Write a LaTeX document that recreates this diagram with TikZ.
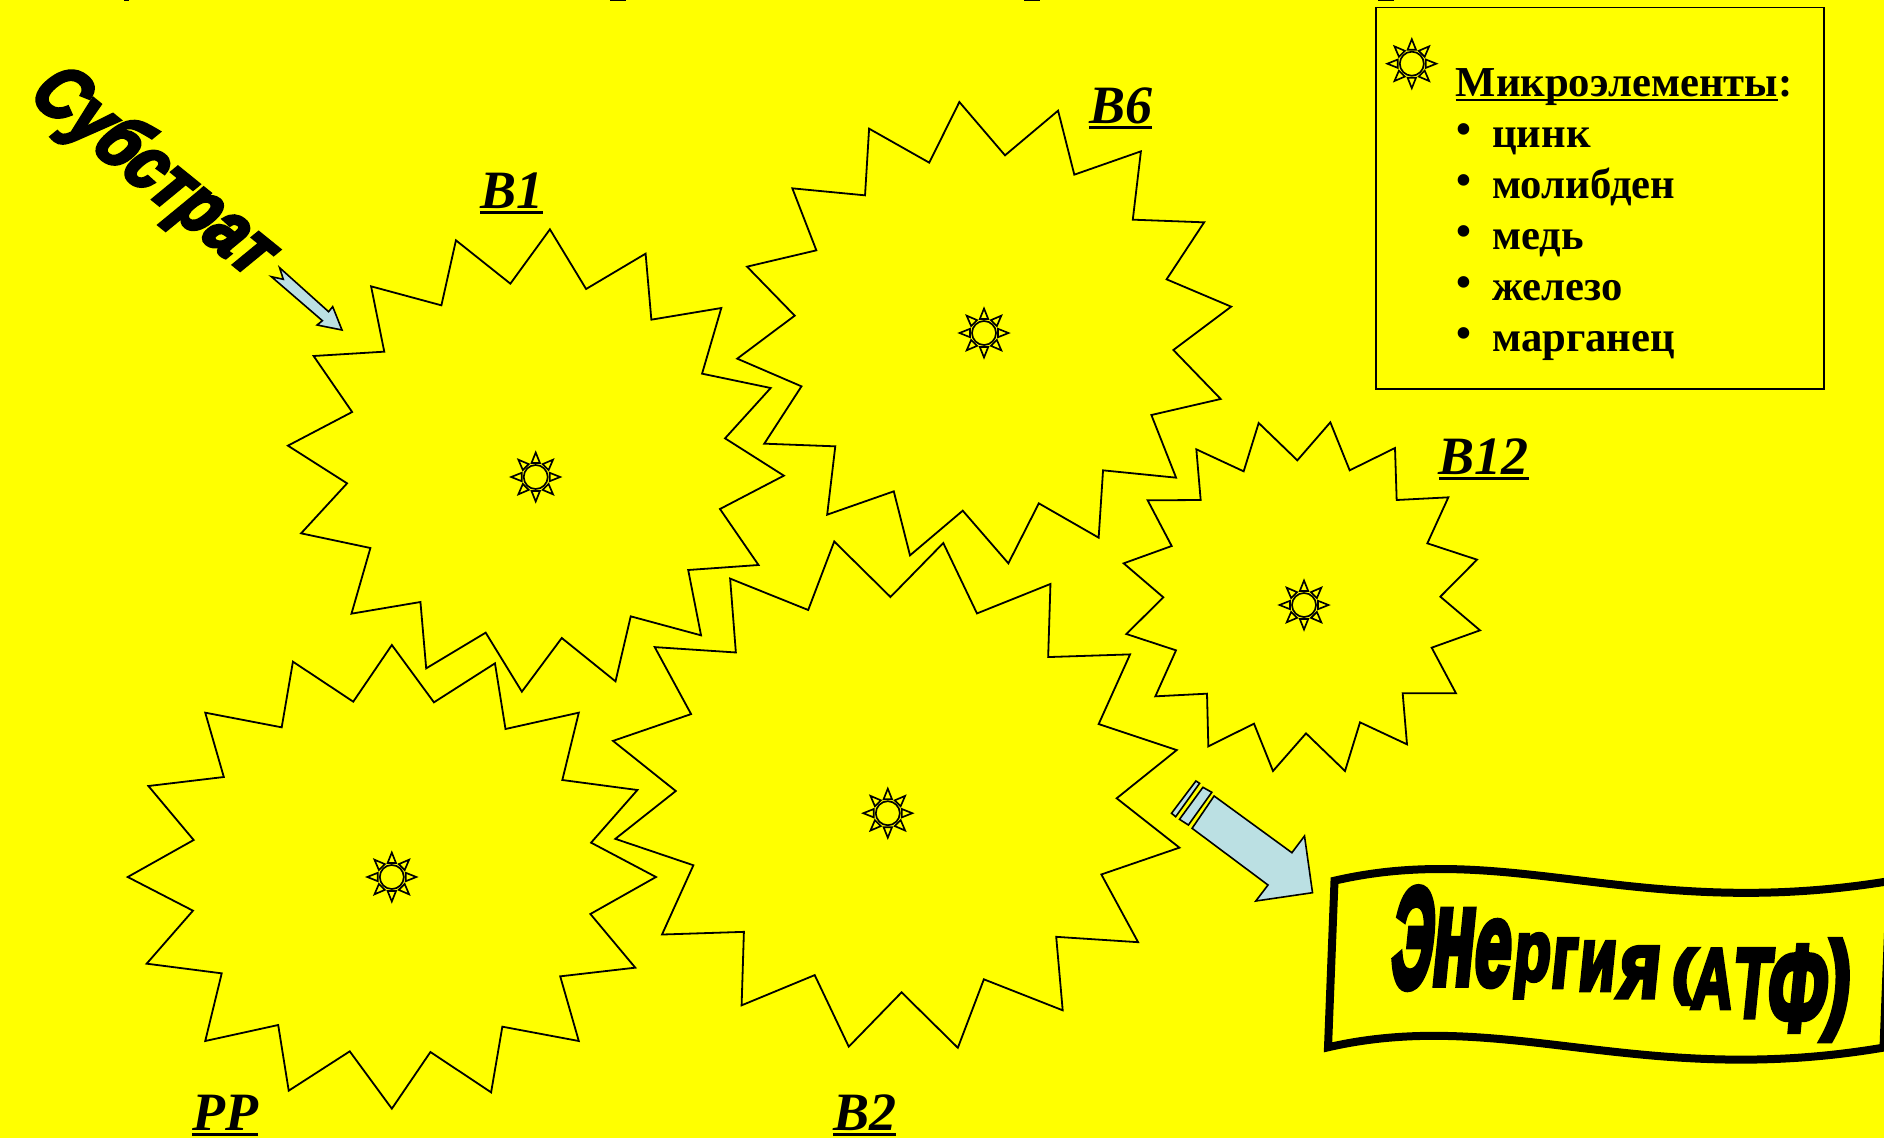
\documentclass[tikz,border=0pt]{standalone}
\usepackage{fontspec}
\usepackage{graphicx}
\setmainfont{Liberation Serif}
\newfontfamily\heavysans[FakeBold=5,FakeSlant=0.25]{Liberation Sans Bold}
\newfontfamily\bannerfont[FakeBold=5.5]{Liberation Sans Bold}
\newcommand{\ulbox}[1]{\setbox0\hbox{#1}\rlap{\rule[-0.105em]{\wd0}{0.05em}}\box0}
% one warped banner letter: advance (px), x scale, y scale, raise (px), letter
\newcommand{\wl}[5]{\makebox[\dimexpr #1pt*3/4\relax][c]{\raisebox{\dimexpr #4pt*3/4\relax}{\scalebox{#2}[#3]{#5}}}}
\newcommand{\bul}{\makebox[27pt][l]{\raisebox{2.8pt}{•}}}
\definecolor{slideyellow}{HTML}{FFFF00}
\definecolor{arrowblue}{HTML}{BBE0E3}
\tikzset{
  x=0.75pt,y=-0.75pt,
  starshape/.style={draw=black,fill=slideyellow,line width=1.35pt,line join=miter,miter limit=10},
  vitlabel/.style={anchor=base west,inner sep=0pt,font=\fontsize{40.5}{40.5}\selectfont\bfseries\itshape},
  legendline/.style={anchor=base west,inner sep=0pt,font=\fontsize{32}{32}\selectfont\bfseries},
  blockarrow/.style={draw=black,fill=arrowblue,line width=1.2pt,line join=miter},
  sunmark/.pic={
    \draw[black,fill=slideyellow,line width=1.25pt] (0,0) circle[radius=12];
    \foreach \a in {0,45,...,315}{
      \draw[black,fill=slideyellow,line width=1.25pt,line join=miter,rotate=\a]
        (14,-4.2) -- (24.5,0) -- (14,4.2) -- cycle;
    }
  }
}
\begin{document}
\begin{tikzpicture}
\useasboundingbox (0,0) rectangle (1884,1138);
\fill[slideyellow] (0,0) rectangle (1884,1138);
\begin{scope}
\clip (0,0) rectangle (1884,1138);

% fragments of cut-off text on the top edge
\fill[black] (124,0) rectangle (129,1.2);
\fill[black] (610,0) rectangle (626,1.4);
\fill[black] (1024,0) rectangle (1040,1.4);
\fill[black] (1378,0) rectangle (1394,1.4);

% B1 star
\begin{scope}[shift={(270,210)},x=0.25355pt,y=-0.25pt]
\draw[starshape] (828,58)--(935,237)--(1111,131)--(1128,329)--(1335,294)--(1278,491)--(1481,534)--(1346,685)--(1520,797)--(1331,897)--(1445,1065)--(1237,1080)--(1275,1276)--(1067,1219)--(1022,1414)--(863,1284)--(745,1445)--(638,1268)--(462,1375)--(445,1176)--(241,1211)--(297,1014)--(92,970)--(228,820)--(53,707)--(243,606)--(129,438)--(338,425)--(299,229)--(507,286)--(550,91)--(711,221)--cycle;
\end{scope}
% B6 star
\begin{scope}[shift={(720,90)},x=0.25355pt,y=-0.25pt]
\draw[starshape] (708,36)--(843,196)--(1000,62)--(1048,254)--(1245,184)--(1221,389)--(1432,397)--(1321,568)--(1512,650)--(1341,780)--(1481,927)--(1276,975)--(1349,1163)--(1133,1141)--(1120,1343)--(943,1240)--(853,1420)--(718,1262)--(562,1396)--(514,1204)--(317,1274)--(341,1069)--(131,1061)--(241,889)--(51,806)--(221,677)--(80,530)--(285,481)--(214,295)--(429,316)--(441,116)--(619,218)--cycle;
\end{scope}
% B12 star
\begin{scope}[shift={(1110,410)},x=0.25pt,y=-0.25pt]
\draw[starshape] (661,37)--(719,181)--(855,114)--(860,270)--(1015,262)--(952,400)--(1101,449)--(991,560)--(1110,661)--(965,713)--(1038,850)--(878,850)--(891,1003)--(750,937)--(705,1083)--(588,970)--(489,1083)--(432,941)--(295,1009)--(291,851)--(136,859)--(198,721)--(49,672)--(160,562)--(41,460)--(185,408)--(113,271)--(272,270)--(259,118)--(401,184)--(446,39)--(562,151)--cycle;
\end{scope}
% B2 star
\begin{scope}[shift={(600,530)},x=0.28703pt,y=-0.28703pt]
\draw[starshape] (897,34)--(985,218)--(1177,141)--(1171,332)--(1385,325)--(1303,507)--(1507,575)--(1350,701)--(1514,830)--(1310,900)--(1406,1077)--(1192,1063)--(1209,1255)--(1003,1174)--(935,1353)--(788,1208)--(650,1350)--(561,1163)--(370,1242)--(376,1050)--(162,1057)--(244,876)--(40,807)--(198,682)--(34,551)--(238,481)--(143,306)--(355,320)--(340,127)--(544,209)--(612,30)--(759,175)--cycle;
\end{scope}
% PP star
\begin{scope}[shift={(120,640)},x=0.26307pt,y=-0.25pt]
\draw[starshape] (775,15)--(895,187)--(1069,70)--(1099,267)--(1308,218)--(1261,420)--(1475,450)--(1343,608)--(1528,711)--(1341,822)--(1469,983)--(1255,1009)--(1308,1203)--(1090,1160)--(1058,1357)--(885,1236)--(775,1406)--(655,1234)--(481,1352)--(451,1155)--(243,1203)--(290,1000)--(76,971)--(208,812)--(22,711)--(210,600)--(81,438)--(296,411)--(243,218)--(461,262)--(493,65)--(665,185)--cycle;
\end{scope}

% suns
\pic at (535.7,477) {sunmark};
\pic at (984,333) {sunmark};
\pic at (1304,605) {sunmark};
\pic at (887.8,813.2) {sunmark};
\pic at (391.8,877) {sunmark};
\pic at (1411.8,63.7) {sunmark};

% vitamin labels
\node[vitlabel] (b1) at (480,208.3) {\ulbox{B1}};
\node[vitlabel] (b6) at (1089,123) {\ulbox{B6}};
\node[vitlabel] (b12) at (1438.5,474) {\ulbox{B12}};
\node[vitlabel] (b2) at (833,1130.5) {\ulbox{B2}};
\node[vitlabel] (pp) at (192,1130.5) {\ulbox{PP}};

% legend
\draw[black,line width=1.3pt] (1375.7,7.5) rectangle (1824,388.7);
\node[legendline] (lg0) at (1455.5,97) {\ulbox{Микроэлементы}:};
\node[legendline] (lg1) at (1456,147.7) {\bul цинк};
\node[legendline] (lg2) at (1456,198.3) {\bul молибден};
\node[legendline] (lg3) at (1456,249) {\bul медь};
\node[legendline] (lg4) at (1456,300.3) {\bul железо};
\node[legendline] (lg5) at (1456,351) {\bul марганец};

% Substrate word art
\node[inner sep=0pt,rotate=-39] (substrate) at (150,171)
  {\scalebox{1}[1.22]{\heavysans\fontsize{47}{47}\selectfont Субстрат}};

% small arrow
\draw[blockarrow] (279.6,267.7)--(283.3,279.3)--(271.4,276.7)--(322.4,320.7)--(317.1,325)--(342,330)--(332.7,306.7)--(328.6,311.7)--cycle;

% striped arrow
\draw[blockarrow] (1214.1,796)--(1291.9,852.7)--(1304.5,836)--(1312.5,892.7)--(1255.8,901)--(1268,885)--(1192.1,828.3)--cycle;
\draw[blockarrow] (1202.9,787.3)--(1211.8,792.3)--(1188.4,825)--(1179.5,819.3)--cycle;
\draw[blockarrow] (1195.9,781)--(1199.6,783.3)--(1175.7,816.7)--(1171.5,813.3)--cycle;

% energy banner
\draw[black,fill=slideyellow,line width=6pt,line join=miter]
  (1334.5,880.7) .. controls (1510,840) and (1640,922) .. (1890,881)
  -- (1883.5,1047.6) .. controls (1640,1089) and (1503.5,1007) .. (1328,1047.3) -- cycle;
\node[anchor=base west,inner sep=0pt,cm={1,0,0.1,1,(0,0)},transform shape] (energy) at (1387,1000)
  {\bannerfont\fontsize{75}{75}\selectfont
   \wl{42}{.58}{1.42}{13}{Э}\wl{40}{.7}{1.39}{16}{н}\wl{39}{.66}{1.19}{15}{е}\wl{40}{.6}{.85}{20}{р}\wl{25}{.6}{.9}{13}{г}\wl{42}{.6}{.9}{10}{и}\wl{44}{.7}{.94}{3}{я}\hspace*{9pt}\wl{20}{.7}{.6}{8}{(}\wl{40}{.56}{.85}{-8}{А}\wl{40}{.6}{.98}{-17}{Т}\wl{52}{.7}{1.21}{-30}{Ф}\wl{28}{.75}{1.08}{-18}{)}};
\end{scope}
\end{tikzpicture}
\end{document}
